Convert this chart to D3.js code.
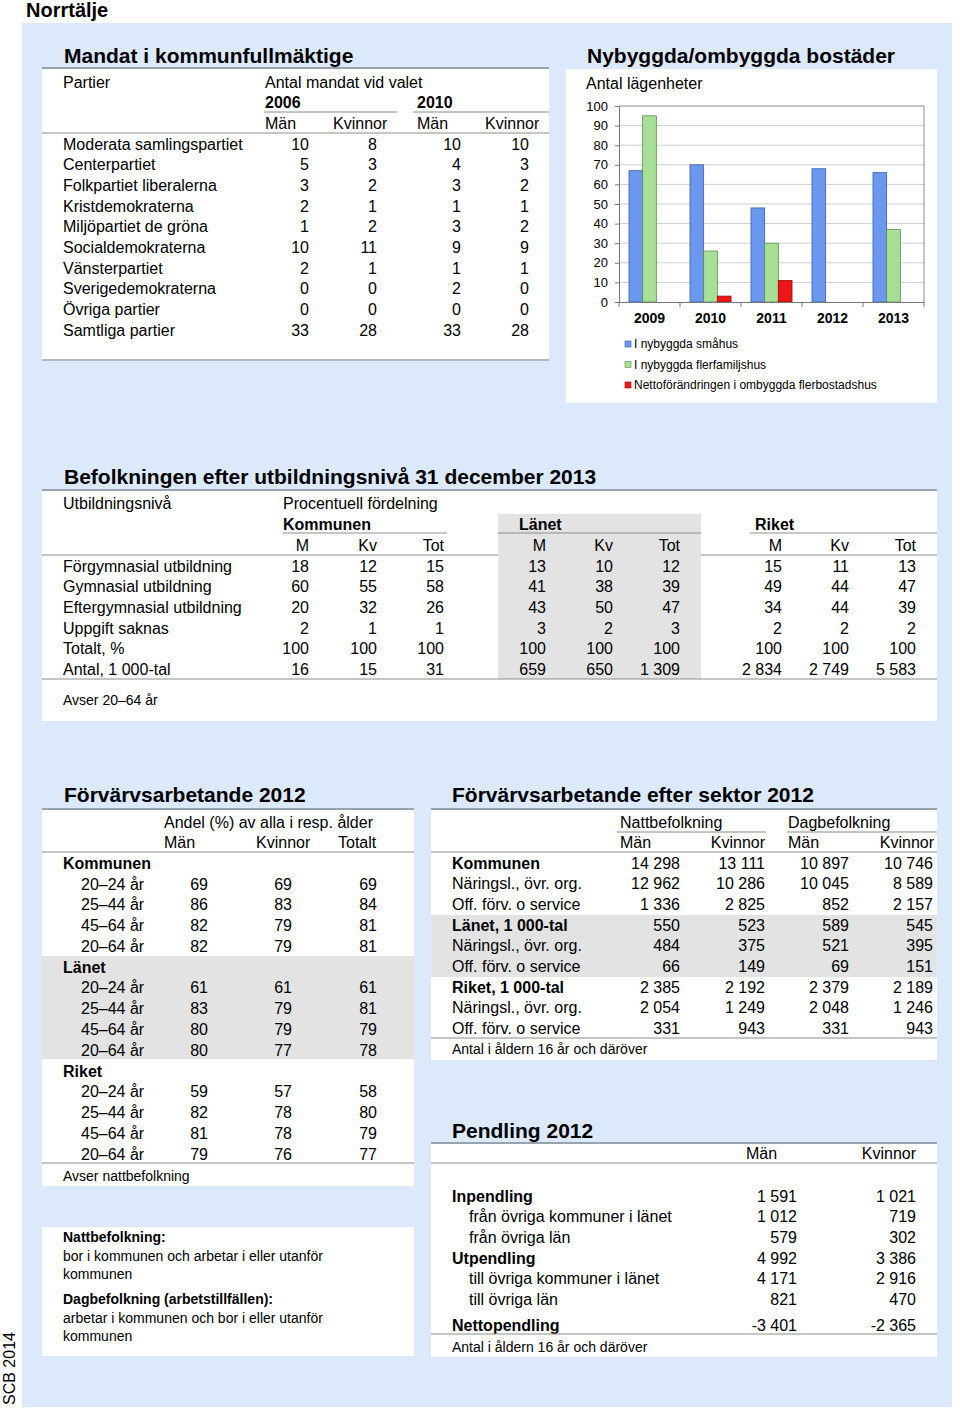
<!DOCTYPE html>
<html>
<head>
<meta charset="utf-8">
<script src="https://cdn.jsdelivr.net/npm/d3@7"></script>
<style>
  body { margin: 0; background: #fff; }
  svg text { font-family: "Liberation Sans", Arial, sans-serif; fill: #000; }
</style>
</head>
<body>
<svg id="page" width="960" height="1410"></svg>
<script>
// ── Data ─────────────────────────────────────────────────────────────────────
const parties = ['Moderata samlingspartiet', 'Centerpartiet', 'Folkpartiet liberalerna',
  'Kristdemokraterna', 'Miljöpartiet de gröna', 'Socialdemokraterna', 'Vänsterpartiet',
  'Sverigedemokraterna', 'Övriga partier', 'Samtliga partier'];
const mandat2006Man = [10, 5, 3, 2, 1, 10, 2, 0, 0, 33];
const mandat2006Kv  = [8, 3, 2, 1, 2, 11, 1, 0, 0, 28];
const mandat2010Man = [10, 4, 3, 1, 3, 9, 1, 2, 0, 33];
const mandat2010Kv  = [10, 3, 2, 1, 2, 9, 1, 0, 0, 28];

const years     = ['2009', '2010', '2011', '2012', '2013'];
const smahus    = [67, 70, 48, 68, 66];
const flerfam   = [95, 26, 30, 0, 37];
const ombyggda  = [0, 3, 11, 0, 0];
const seriesNames = ['I nybyggda småhus', 'I nybyggda flerfamiljshus',
  'Nettoförändringen i ombyggda flerbostadshus'];
const yTicks = [0, 10, 20, 30, 40, 50, 60, 70, 80, 90, 100];

const utbLevels = ['Förgymnasial utbildning', 'Gymnasial utbildning', 'Eftergymnasial utbildning',
  'Uppgift saknas', 'Totalt, %', 'Antal, 1 000-tal'];
const utbKomM   = [18, 60, 20, 2, 100, 16];
const utbKomKv  = [12, 55, 32, 1, 100, 15];
const utbKomTot = [15, 58, 26, 1, 100, 31];
const utbLanM   = [13, 41, 43, 3, 100, 659];
const utbLanKv  = [10, 38, 50, 2, 100, 650];
const utbLanTot = [12, 39, 47, 3, 100, 1309];
const utbRikM   = [15, 49, 34, 2, 100, 2834];
const utbRikKv  = [11, 44, 44, 2, 100, 2749];
const utbRikTot = [13, 47, 39, 2, 100, 5583];

const areas = ['Kommunen', 'Länet', 'Riket'];
const ages  = ['20–24 år', '25–44 år', '45–64 år', '20–64 år'];
const forvMan = [[69, 86, 82, 82], [61, 83, 80, 80], [59, 82, 81, 79]];
const forvKv  = [[69, 83, 79, 79], [61, 79, 79, 77], [57, 78, 78, 76]];
const forvTot = [[69, 84, 81, 81], [61, 81, 79, 78], [58, 80, 79, 77]];

const sektorRows = ['Kommunen', 'Näringsl., övr. org.', 'Off. förv. o service',
  'Länet, 1 000-tal', 'Näringsl., övr. org.', 'Off. förv. o service',
  'Riket, 1 000-tal', 'Näringsl., övr. org.', 'Off. förv. o service'];
const nattMan = [14298, 12962, 1336, 550, 484, 66, 2385, 2054, 331];
const nattKv  = [13111, 10286, 2825, 523, 375, 149, 2192, 1249, 943];
const dagMan  = [10897, 10045, 852, 589, 521, 69, 2379, 2048, 331];
const dagKv   = [10746, 8589, 2157, 545, 395, 151, 2189, 1246, 943];

const pendRows = ['Inpendling', 'från övriga kommuner i länet', 'från övriga län',
  'Utpendling', 'till övriga kommuner i länet', 'till övriga län', 'Nettopendling'];
const pendMan = [1591, 1012, 579, 4992, 4171, 821, -3401];
const pendKv  = [1021, 719, 302, 3386, 2916, 470, -2365];

// ── Helpers ──────────────────────────────────────────────────────────────────
const svg = d3.select('#page');
const fmt = d3.formatLocale({ decimal: ',', thousands: '\u00a0', grouping: [3],
  currency: ['', ''], minus: '-' }).format(',d');

const BLUE_BG = '#dce9fa';
const RULE    = '#97a3af';
const LINE    = '#8c8c8c';
const SHADE   = '#e3e3e3';

// text centred vertically on y
function txt(x, y, s, o = {}) {
  const size = o.size || 16;
  return svg.append('text')
    .attr('x', x).attr('y', y + size * 0.36)
    .attr('font-size', size)
    .attr('font-weight', o.bold ? 'bold' : null)
    .attr('text-anchor', o.anchor || 'start')
    .text(s);
}
function hline(x1, x2, y, w = 1, c = LINE) {
  svg.append('line').attr('x1', x1).attr('x2', x2).attr('y1', y).attr('y2', y)
    .attr('stroke', c).attr('stroke-width', w);
}
function box(x, y, w, h, fill) {
  svg.append('rect').attr('x', x).attr('y', y).attr('width', w).attr('height', h).attr('fill', fill);
}
function title(x, y, s) {
  svg.append('text').attr('x', x).attr('y', y)
    .attr('font-size', 21).attr('font-weight', 'bold').text(s);
}
function rowScale(n, y0, y1) {
  return d3.scalePoint().domain(d3.range(n)).range([y0, y1]);
}

// ── Page frame ───────────────────────────────────────────────────────────────
svg.append('text').attr('x', 26).attr('y', 17)
  .attr('font-size', 20).attr('font-weight', 'bold').text('Norrtälje');
box(22, 23, 930, 1384, BLUE_BG);
svg.append('text')
  .attr('transform', 'translate(15,1405) rotate(-90)')
  .attr('font-size', 16).text('SCB 2014');

// white panels
box(42, 67, 507, 294, '#fff');
box(566, 69, 371, 334, '#fff');
box(42, 489, 895, 232, '#fff');
box(42, 808, 372, 378, '#fff');
box(431, 808, 506, 252, '#fff');
box(431, 1143, 506, 214, '#fff');
box(42, 1227, 372, 129, '#fff');

// ── Mandat i kommunfullmäktige ───────────────────────────────────────────────
title(64, 63, 'Mandat i kommunfullmäktige');
hline(42, 549, 68, 2, RULE);
txt(63, 82, 'Partier');
txt(265, 82, 'Antal mandat vid valet');
txt(265, 102, '2006', { bold: true });
txt(417, 102, '2010', { bold: true });
hline(264, 397, 112);
hline(413, 549, 112);
txt(265, 123, 'Män');
txt(333, 123, 'Kvinnor');
txt(417, 123, 'Män');
txt(485, 123, 'Kvinnor');
hline(42, 549, 133);
{
  const ry = rowScale(parties.length, 144, 330);
  const colX = [309, 377, 461, 529];
  parties.forEach((p, i) => txt(63, ry(i), p));
  [mandat2006Man, mandat2006Kv, mandat2010Man, mandat2010Kv].forEach((vals, c) =>
    vals.forEach((v, i) => txt(colX[c], ry(i), fmt(v), { anchor: 'end' })));
}
hline(42, 549, 360, 1.5, RULE);

// ── Nybyggda/ombyggda bostäder (bar chart) ──────────────────────────────────
title(587, 63, 'Nybyggda/ombyggda bostäder');
txt(586, 83, 'Antal lägenheter');
{
  const plot = { l: 619, r: 924, t: 106, b: 302 };
  const x  = d3.scaleBand().domain(years).range([plot.l, plot.r]);
  const xs = d3.scaleBand().domain([0, 1, 2]).range([0, x.bandwidth()]).paddingOuter(0.73);
  const y  = d3.scaleLinear().domain([0, 100]).range([plot.b, plot.t]);

  const g = svg.append('g');
  // gridlines
  g.selectAll('line.grid').data(yTicks.slice(1, -1)).join('line')
    .attr('x1', plot.l).attr('x2', plot.r)
    .attr('y1', d => y(d)).attr('y2', d => y(d))
    .attr('stroke', '#cfcfcf');
  // frame top + right
  g.append('path')
    .attr('d', `M${plot.l},${y(100)}H${plot.r}V${y(0)}`)
    .attr('fill', 'none').attr('stroke', '#8d8d8d');

  const series = [smahus, flerfam, ombyggda];
  const fills   = ['#6b98ee', '#a8df96', '#ee1616'];
  const strokes = ['#3b5fa8', '#5e8f4e', '#9a0a0a'];
  series.forEach((vals, s) => {
    g.selectAll(`rect.s${s}`).data(vals.map((v, i) => ({ year: years[i], v })))
      .join('rect')
      .attr('x', d => x(d.year) + xs(s))
      .attr('width', xs.bandwidth())
      .attr('y', d => y(d.v))
      .attr('height', d => y(0) - y(d.v))
      .attr('fill', fills[s])
      .attr('stroke', d => d.v > 0 ? strokes[s] : 'none')
      .attr('stroke-width', 0.8);
  });

  // y axis
  const ya = g.append('g').attr('transform', `translate(${plot.l},0)`)
    .call(d3.axisLeft(y).tickValues(yTicks).tickSize(4).tickPadding(7));
  ya.select('.domain').attr('stroke', '#777');
  ya.selectAll('.tick line').attr('stroke', '#777');
  ya.selectAll('text').attr('font-size', 13).attr('fill', '#000')
    .attr('font-family', '"Liberation Sans", Arial, sans-serif');

  // x axis
  const xa = g.append('g').attr('transform', `translate(0,${plot.b})`)
    .call(d3.axisBottom(x).tickSize(0).tickPadding(11));
  xa.select('.domain').attr('stroke', '#777');
  xa.selectAll('text').attr('font-size', 14).attr('font-weight', 'bold').attr('fill', '#000')
    .attr('font-family', '"Liberation Sans", Arial, sans-serif');
  // tick marks at category boundaries
  const bounds = years.map(d => x(d)).concat([plot.r]);
  g.selectAll('line.xt').data(bounds).join('line')
    .attr('x1', d => d).attr('x2', d => d)
    .attr('y1', plot.b).attr('y2', plot.b + 5)
    .attr('stroke', '#777');

  // legend
  const ly = rowScale(seriesNames.length, 344, 385);
  seriesNames.forEach((n, i) => {
    g.append('rect').attr('x', 625).attr('y', ly(i) - 3).attr('width', 6).attr('height', 6)
      .attr('fill', fills[i]).attr('stroke', strokes[i]).attr('stroke-width', 0.6);
    txt(634, ly(i), n, { size: 12 });
  });
}

// ── Befolkningen efter utbildningsnivå ──────────────────────────────────────
title(64, 484, 'Befolkningen efter utbildningsnivå 31 december 2013');
hline(42, 937, 490, 2, RULE);
box(498, 514, 203, 165, SHADE);
txt(63, 503, 'Utbildningsnivå');
txt(283, 503, 'Procentuell fördelning');
txt(283, 524, 'Kommunen', { bold: true });
txt(519, 524, 'Länet', { bold: true });
txt(755, 524, 'Riket', { bold: true });
hline(283, 447, 533);
hline(498, 701, 533);
hline(750, 937, 533);
{
  const colX = [309, 377, 444, 546, 613, 680, 782, 849, 916];
  const heads = ['M', 'Kv', 'Tot'];
  colX.forEach((cx, c) => txt(cx, 545, heads[c % 3], { anchor: 'end' }));
  hline(42, 498, 555);
  hline(701, 937, 555);
  const ry = rowScale(utbLevels.length, 566, 669);
  utbLevels.forEach((l, i) => txt(63, ry(i), l));
  [utbKomM, utbKomKv, utbKomTot, utbLanM, utbLanKv, utbLanTot, utbRikM, utbRikKv, utbRikTot]
    .forEach((vals, c) => vals.forEach((v, i) => txt(colX[c], ry(i), fmt(v), { anchor: 'end' })));
}
hline(42, 937, 679);
txt(63, 700, 'Avser 20–64 år', { size: 14 });

// ── Förvärvsarbetande 2012 ──────────────────────────────────────────────────
title(64, 802, 'Förvärvsarbetande 2012');
hline(42, 414, 809, 2, RULE);
box(42, 956, 372, 103, SHADE);
txt(164, 822, 'Andel (%) av alla i resp. ålder');
txt(164, 842, 'Män');
txt(256, 842, 'Kvinnor');
txt(338, 842, 'Totalt');
hline(42, 414, 852);
{
  const ry = rowScale(areas.length * (ages.length + 1), 863, 1154);
  const colX = [208, 292, 377];
  areas.forEach((a, ai) => {
    const base = ai * (ages.length + 1);
    txt(63, ry(base), a, { bold: true });
    ages.forEach((ag, k) => {
      const r = ry(base + 1 + k);
      txt(81, r, ag);
      [forvMan, forvKv, forvTot].forEach((tab, c) =>
        txt(colX[c], r, fmt(tab[ai][k]), { anchor: 'end' }));
    });
  });
}
hline(42, 414, 1163);
txt(63, 1176, 'Avser nattbefolkning', { size: 14 });

// ── Förvärvsarbetande efter sektor 2012 ─────────────────────────────────────
title(452, 802, 'Förvärvsarbetande efter sektor 2012');
hline(431, 937, 809, 2, RULE);
box(431, 915, 506, 62, SHADE);
txt(620, 822, 'Nattbefolkning');
txt(788, 822, 'Dagbefolkning');
hline(617, 766, 832);
hline(787, 937, 832);
txt(620, 842, 'Män');
txt(765, 842, 'Kvinnor', { anchor: 'end' });
txt(788, 842, 'Män');
txt(934, 842, 'Kvinnor', { anchor: 'end' });
hline(431, 937, 852);
{
  const ry = rowScale(sektorRows.length, 863, 1028);
  const colX = [680, 765, 849, 933];
  sektorRows.forEach((l, i) => txt(452, ry(i), l, { bold: i % 3 === 0 }));
  [nattMan, nattKv, dagMan, dagKv].forEach((vals, c) =>
    vals.forEach((v, i) => txt(colX[c], ry(i), fmt(v), { anchor: 'end' })));
}
hline(431, 937, 1038);
txt(452, 1049, 'Antal i åldern 16 år och däröver', { size: 14 });

// ── Pendling 2012 ───────────────────────────────────────────────────────────
title(452, 1138, 'Pendling 2012');
hline(431, 937, 1143, 2, RULE);
txt(746, 1153, 'Män');
txt(916, 1153, 'Kvinnor', { anchor: 'end' });
hline(431, 937, 1163);
{
  const ry = rowScale(6, 1196, 1299);
  const rowY = pendRows.map((_, i) => i < 6 ? ry(i) : ry(5) + 26);
  const bold = [true, false, false, true, false, false, true];
  pendRows.forEach((l, i) => txt(bold[i] ? 452 : 469, rowY[i], l, { bold: bold[i] }));
  [pendMan, pendKv].forEach((vals, c) =>
    vals.forEach((v, i) => txt([797, 916][c], rowY[i], fmt(v), { anchor: 'end' })));
}
hline(431, 937, 1334);
txt(452, 1347, 'Antal i åldern 16 år och däröver', { size: 14 });

// ── Footnote box ────────────────────────────────────────────────────────────
txt(63, 1237, 'Nattbefolkning:', { size: 14, bold: true });
txt(63, 1256, 'bor i kommunen och arbetar i eller utanför', { size: 14 });
txt(63, 1274, 'kommunen', { size: 14 });
txt(63, 1299, 'Dagbefolkning (arbetstillfällen):', { size: 14, bold: true });
txt(63, 1318, 'arbetar i kommunen och bor i eller utanför', { size: 14 });
txt(63, 1336, 'kommunen', { size: 14 });
</script>
</body>
</html>
